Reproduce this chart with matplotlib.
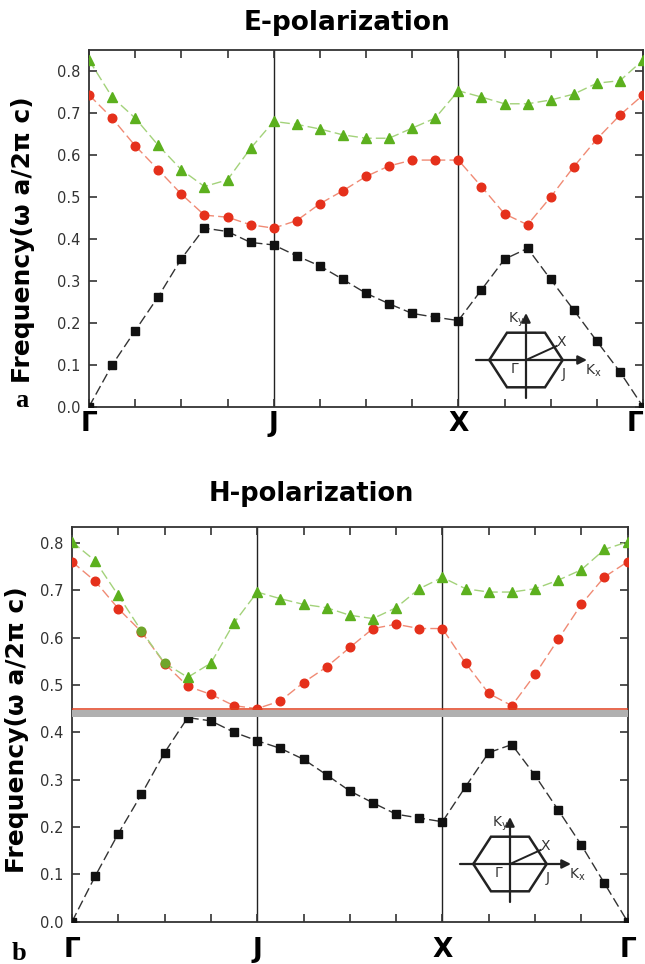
import matplotlib
matplotlib.use("Agg")
import matplotlib.pyplot as plt

# k-path index: 8 steps per segment  Γ -> J -> X -> Γ
kpath = list(range(25))
sym_pos = [0, 8, 16, 24]
sym_labels = ["Γ", "J", "X", "Γ"]
yticks = [0.0, 0.1, 0.2, 0.3, 0.4, 0.5, 0.6, 0.7, 0.8]

# E-polarization bands
e_band1 = [0.0, 0.099, 0.181, 0.262, 0.352, 0.425, 0.417, 0.391, 0.385, 0.359, 0.335, 0.303, 0.270,
           0.245, 0.222, 0.213, 0.205, 0.278, 0.351, 0.377, 0.303, 0.230, 0.156, 0.083, 0.0]
e_band2 = [0.742, 0.687, 0.621, 0.564, 0.506, 0.456, 0.451, 0.433, 0.425, 0.443, 0.483, 0.514, 0.548,
           0.573, 0.587, 0.587, 0.587, 0.524, 0.459, 0.433, 0.499, 0.571, 0.637, 0.694, 0.742]
e_band3 = [0.825, 0.737, 0.687, 0.622, 0.564, 0.524, 0.540, 0.615, 0.679, 0.672, 0.661, 0.647, 0.639,
           0.639, 0.663, 0.687, 0.752, 0.737, 0.721, 0.721, 0.730, 0.744, 0.770, 0.776, 0.825]

# H-polarization bands
h_band1 = [0.0, 0.096, 0.186, 0.269, 0.357, 0.431, 0.424, 0.400, 0.382, 0.366, 0.343, 0.310, 0.276,
           0.251, 0.227, 0.219, 0.211, 0.285, 0.357, 0.374, 0.309, 0.236, 0.162, 0.081, 0.0]
h_band2 = [0.760, 0.719, 0.661, 0.612, 0.545, 0.497, 0.480, 0.456, 0.450, 0.466, 0.505, 0.538, 0.579,
           0.619, 0.628, 0.619, 0.619, 0.546, 0.482, 0.456, 0.522, 0.596, 0.670, 0.728, 0.760]
h_band3 = [0.802, 0.762, 0.689, 0.614, 0.546, 0.516, 0.546, 0.631, 0.696, 0.682, 0.670, 0.663, 0.647,
           0.640, 0.663, 0.703, 0.727, 0.703, 0.696, 0.696, 0.703, 0.721, 0.743, 0.786, 0.802]
h_circ_idx = [3, 4]  # where the upper band is drawn with circles

# photonic band gap (H)
gap_lo, gap_hi = 0.432, 0.446
gap_line = 0.449

W, H = 645, 964
fig = plt.figure(figsize=(W / 100, H / 100), dpi=100)

BLK, RED, GRN = "#111111", "#e5301b", "#5cb01e"
LBLK, LRED, LGRN = "#333333", "#f08a74", "#a3d27a"
dash = (0, (7, 3))


def px_axes(left, top, right, bottom):
    return fig.add_axes([left / W, 1 - bottom / H, (right - left) / W, (bottom - top) / H])


def band(ax, y, lc, mc, marker, ms, idx_skip=()):
    ax.plot(kpath, y, color=lc, lw=1.0, linestyle=dash, zorder=2)
    xs = [k for k in kpath if k not in idx_skip]
    ys = [y[k] for k in xs]
    ax.plot(xs, ys, linestyle="none", marker=marker, ms=ms, color=mc, mec=mc, zorder=3)


def style(ax, ymax, xpad, last_right=False):
    ax.set_xlim(0, 24)
    ax.set_ylim(0, ymax)
    ax.set_xticks(sym_pos)
    ax.set_xticks(list(range(0, 25, 2)), minor=True)
    ax.set_xticklabels(sym_labels, fontsize=19, fontweight="bold")
    if last_right:
        ax.get_xticklabels()[-1].set_horizontalalignment("right")
    ax.set_yticks(yticks)
    ax.set_yticklabels(["%.1f" % v for v in yticks], fontsize=10.5, color="#333333")
    ax.tick_params(axis="x", which="both", direction="in", top=True, length=6, width=1.2,
                   color="#333333", pad=xpad)
    ax.tick_params(axis="y", direction="in", right=True, length=6, width=1.2,
                   color="#333333", pad=6)
    for s in ax.spines.values():
        s.set_linewidth(1.3)
        s.set_color("#333333")
    for k in sym_pos[1:3]:
        ax.axvline(k, color="#222222", lw=1.0, zorder=1)


def bz_inset(cx, cy):
    ia = px_axes(cx - 60, cy - 55, cx + 80, cy + 50)
    ia.set_xlim(-60, 80)
    ia.set_ylim(-50, 55)
    ia.axis("off")
    hx = [-36.7, -19, 19, 36.7, 19, -19, -36.7]
    hy = [0, 27.3, 27.3, 0, -27.3, -27.3, 0]
    ia.plot(hx, hy, color="#222222", lw=1.8, solid_joinstyle="miter")
    ia.plot([0, 30.7], [0, 14], color="#222222", lw=1.4)
    arr = dict(arrowstyle="-|>", lw=1.6, color="#222222", mutation_scale=13, shrinkA=0, shrinkB=0)
    ia.annotate("", xy=(0, 47), xytext=(0, -38), arrowprops=arr)
    ia.annotate("", xy=(61, 0), xytext=(-50, 0), arrowprops=arr)
    kw = dict(fontsize=10, color="#333333", ha="center", va="center")
    ia.text(-10, 40, "K$_\\mathregular{y}$", **kw)
    ia.text(35, 18, "X", **kw)
    ia.text(-11, -9, "Γ", **kw)
    ia.text(38, -14, "J", **kw)
    ia.text(67, -11, "K$_\\mathregular{x}$", **kw)


# ---- top panel: E-polarization
ax1 = px_axes(89, 50, 643, 406.7)
band(ax1, e_band1, LBLK, BLK, "s", 5.8)
band(ax1, e_band2, LRED, RED, "o", 6.2)
band(ax1, e_band3, LGRN, GRN, "^", 6.8)
style(ax1, 0.849, 3, last_right=True)
bz_inset(526, 360)

# ---- bottom panel: H-polarization
ax2 = px_axes(72, 526.7, 627.6, 921.7)
band(ax2, h_band1, LBLK, BLK, "s", 5.8)
band(ax2, h_band2, LRED, RED, "o", 6.2)
band(ax2, h_band3, LGRN, GRN, "^", 6.8, idx_skip=h_circ_idx)
ax2.plot(h_circ_idx, [h_band3[k] for k in h_circ_idx], linestyle="none", marker="o", ms=6.2,
         color="#6fa52a", zorder=3.2)
ax2.axhspan(gap_lo, gap_hi, color="#b0b0b0", lw=0, zorder=3.5)
ax2.axhline(gap_line, color="#e0401f", lw=1.1, zorder=3.6)
style(ax2, 0.834, 11)
bz_inset(510, 864)

# titles, labels
fig.text(347 / W, 1 - 23 / H, "E-polarization", fontsize=19, fontweight="bold", ha="center", va="center")
fig.text(311 / W, 1 - 494 / H, "H-polarization", fontsize=18.5, fontweight="bold", ha="center", va="center")
fig.text(23 / W, 1 - 240 / H, "Frequency(ω a/2π c)", fontsize=18, fontweight="bold",
         rotation=90, ha="center", va="center")
fig.text(17 / W, 1 - 730 / H, "Frequency(ω a/2π c)", fontsize=18, fontweight="bold",
         rotation=90, ha="center", va="center")
fig.text(22 / W, 1 - 407 / H, "a", fontsize=19, fontweight="bold", family="Liberation Serif",
         ha="center", va="baseline")
fig.text(19 / W, 1 - 960 / H, "b", fontsize=19, fontweight="bold", family="Liberation Serif",
         ha="center", va="baseline")

fig.savefig("out.png", dpi=100)
